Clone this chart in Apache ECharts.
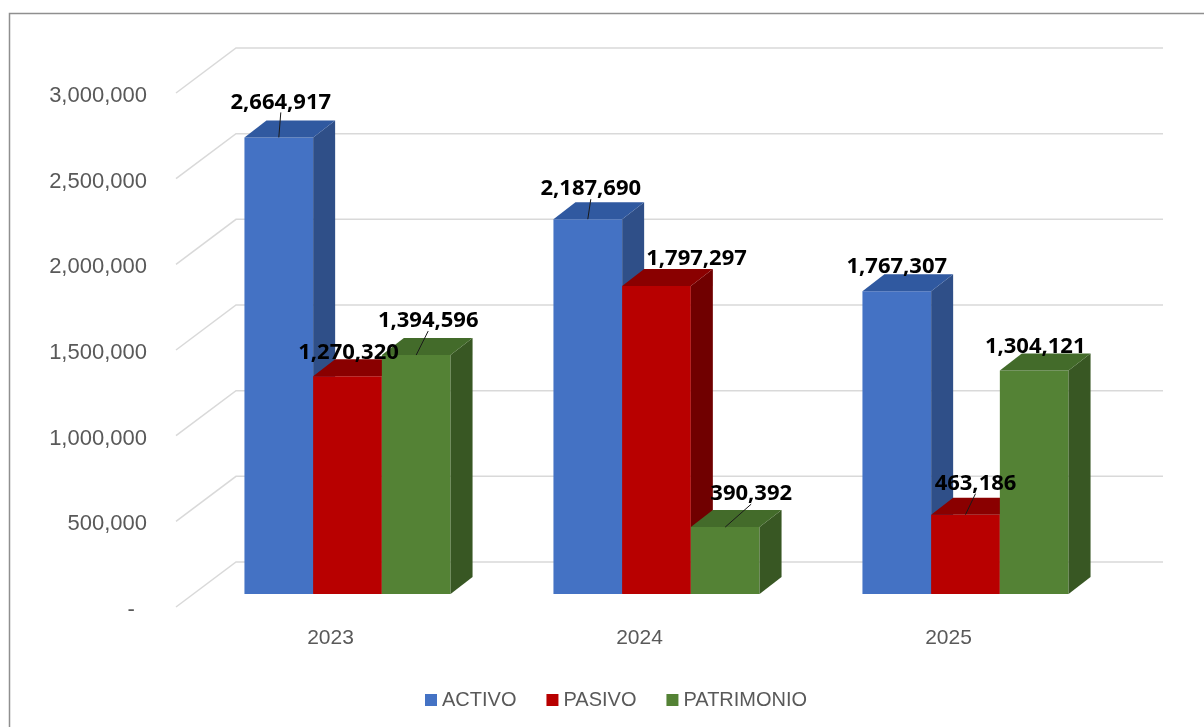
<!DOCTYPE html>
<html>
<head>
<meta charset="utf-8">
<title>Activo, Pasivo y Patrimonio</title>
<script src="https://cdn.jsdelivr.net/npm/echarts@6/dist/echarts.min.js"></script>
<style>
  html, body { margin: 0; padding: 0; background: #fff; }
  #main { width: 1204px; height: 727px; }
</style>
</head>
<body>
<div id="main"></div>
<script>
var years = ['2023', '2024', '2025'];
var activo = [2664917, 2187690, 1767307];
var pasivo = [1270320, 1797297, 463186];
var patrimonio = [1394596, 390392, 1304121];
var yTicks = [0, 500000, 1000000, 1500000, 2000000, 2500000, 3000000];

// colores de caras: frente, lado, tapa
var faceColors = [
  ['#4472C4', '#2F4F88', '#3059A0'],
  ['#B80000', '#700000', '#8A0000'],
  ['#548235', '#385723', '#436B2A']
];
var DX = 22, DY = -17; // profundidad de cada barra
// ajuste de etiquetas [dx, dy, linea guia] por serie / año
var labelShift = [
  [[2, -11, 1], [3, -6, 1], [0, 0, 0]],
  [[1, 0, 0], [40, -3, 0], [10, -7, 1]],
  [[12, -10, 1], [26, -9, 1], [1, 0, 0]]
];

function fmt(v) {
  return v === 0 ? '-  ' : v.toLocaleString('en-US');
}

function barRender(s) {
  return function (params, api) {
    var cat = api.value(0), v = api.value(1);
    var top = api.coord([cat, v]);
    var base = api.coord([cat, 0]);
    var band = api.size([1, 0])[0];
    var gw = band * 0.667, bw = gw / 3;
    var x0 = top[0] - gw / 2 + s * bw, x1 = x0 + bw;
    var yt = top[1], yb = base[1];
    var c = faceColors[s];
    var sh = labelShift[s][cat];
    var fc = (x0 + x1) / 2;
    var lx = fc + sh[0], ly = yt - 24 + sh[1];
    var children = [
      { type: 'rect', shape: { x: x0, y: yt, width: bw, height: yb - yt },
        style: { fill: c[0] }, z2: s * 10 },
      { type: 'polygon', shape: { points: [[x1, yt], [x1 + DX, yt + DY], [x1 + DX, yb + DY], [x1, yb]] },
        style: { fill: c[1] }, z2: s * 10 + 1 },
      { type: 'polygon', shape: { points: [[x0, yt], [x0 + DX, yt + DY], [x1 + DX, yt + DY], [x1, yt]] },
        style: { fill: c[2] }, z2: s * 10 + 2 },
      { type: 'text', x: lx, y: ly, z2: 100,
        style: { text: fmt(v), fill: '#000', fontSize: 22, fontWeight: 'bold',
                 fontFamily: 'Open Sans', align: 'center', verticalAlign: 'middle' } }
    ];
    if (sh[2]) {
      children.push({ type: 'line', z2: 99,
        shape: { x1: fc, y1: yt, x2: lx, y2: ly + 10 },
        style: { stroke: '#1a1a1a', lineWidth: 1 } });
    }
    return { type: 'group', children: children };
  };
}

// lineas de division en perspectiva (pared del fondo + diagonal) y sus etiquetas
function gridRender(params, api) {
  var cs = params.coordSys;
  var v = api.value(1);
  var y = api.coord([0, v])[1];
  return {
    type: 'group',
    children: [
      { type: 'polyline',
        shape: { points: [[cs.x - 17, y + 13], [cs.x + 43, y - 32], [cs.x + cs.width + 43, y - 32]] },
        style: { stroke: '#D9D9D9', lineWidth: 1.5, fill: null } },
      { type: 'text', x: cs.x - 46, y: y + 16,
        style: { text: fmt(v), fill: '#595959', fontSize: 22, fontFamily: 'Liberation Sans',
                 align: 'right', verticalAlign: 'middle' } }
    ]
  };
}

function pairs(arr) {
  return arr.map(function (v, i) { return [i, v]; });
}

var chart = echarts.init(document.getElementById('main'));
var option = {
  animation: false,
  backgroundColor: '#fff',
  graphic: [{
    type: 'rect', silent: true, z: -10,
    shape: { x: 9.5, y: 13.5, width: 1400, height: 900 },
    style: { fill: null, stroke: '#8F8F8F', lineWidth: 1.5 }
  }],
  grid: { left: 193, top: 80, width: 927, height: 514 },
  legend: {
    data: ['ACTIVO', 'PASIVO', 'PATRIMONIO'],
    left: 420, top: 685,
    icon: 'rect', itemWidth: 12, itemHeight: 12, itemGap: 30,
    textStyle: { fontSize: 20, color: '#595959', fontFamily: 'Liberation Sans' }
  },
  xAxis: {
    type: 'category',
    data: years,
    axisLine: { show: false },
    axisTick: { show: false },
    axisLabel: {
      margin: 34, padding: [0, 34, 0, 0],
      fontSize: 21, color: '#595959', fontFamily: 'Liberation Sans'
    }
  },
  yAxis: {
    type: 'value',
    min: 0, max: 3000000, interval: 500000,
    axisLine: { show: false },
    axisTick: { show: false },
    splitLine: { show: false },
    axisLabel: { show: false }
  },
  series: [
    {
      type: 'custom', name: 'grid', z: 1, silent: true, clip: false,
      renderItem: gridRender,
      encode: { x: 0, y: 1 },
      data: yTicks.map(function (v) { return [0, v]; })
    },
    {
      type: 'custom', name: 'ACTIVO', z: 2, clip: false,
      itemStyle: { color: faceColors[0][0] },
      renderItem: barRender(0), encode: { x: 0, y: 1 },
      data: pairs(activo)
    },
    {
      type: 'custom', name: 'PASIVO', z: 2, clip: false,
      itemStyle: { color: faceColors[1][0] },
      renderItem: barRender(1), encode: { x: 0, y: 1 },
      data: pairs(pasivo)
    },
    {
      type: 'custom', name: 'PATRIMONIO', z: 2, clip: false,
      itemStyle: { color: faceColors[2][0] },
      renderItem: barRender(2), encode: { x: 0, y: 1 },
      data: pairs(patrimonio)
    }
  ]
};
chart.setOption(option);
</script>
</body>
</html>
